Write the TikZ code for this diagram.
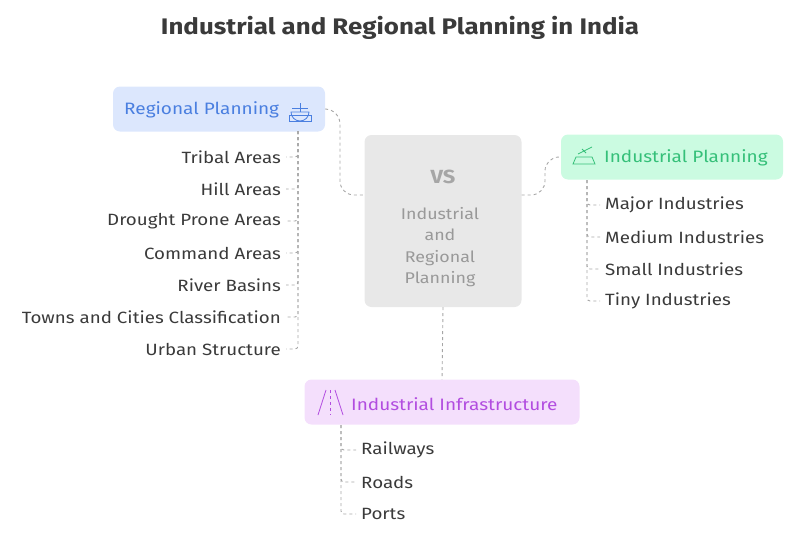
\documentclass[tikz,border=0pt]{standalone}
\usepackage{fontspec}
\setmainfont{Fira Sans}[FakeStretch=1.15]
\usetikzlibrary{positioning, arrows.meta}
\definecolor{regfill}{HTML}{DCE7FD}
\definecolor{regtext}{HTML}{4A7FE0}
\definecolor{indfill}{HTML}{CBFBE1}
\definecolor{indtext}{HTML}{35C079}
\definecolor{inffill}{HTML}{F4DFFC}
\definecolor{inftext}{HTML}{B24DE0}
\definecolor{midfill}{HTML}{E8E8E8}
\definecolor{leaftext}{HTML}{3A3A3A}
\tikzset{
    topic/.style={rounded corners=7pt, minimum height=45pt},
    label/.style={font=\fontsize{16.5}{19}\selectfont, inner sep=0pt, anchor=west},
    leaf/.style={font=\fontsize{16.3}{18}\selectfont, text=leaftext, inner sep=1pt},
    link/.style={draw=gray!70, dashed, line width=0.9pt, rounded corners=8pt}
}
\begin{document}
\begin{tikzpicture}[x=1pt, y=-1pt]
        \useasboundingbox (0,0) rectangle (800,533);

        %% TITLE
        \node[font=\bfseries\fontsize{22.5}{24}\selectfont, text=leaftext] (title) at (400,28) {Industrial and Regional Planning in India};

        %% MAIN BOXES
        \node[topic, fill=midfill, minimum width=157pt, minimum height=172pt] (mid) at (443,221) {};
        \node[font=\bfseries\fontsize{19}{21}\selectfont, text=gray!70] (vs) at (443,177) {VS};
        \node[font=\fontsize{15.5}{21.5}\selectfont, text=gray!80, align=center] (midtext) at (440,247) {Industrial\\and\\Regional\\Planning};

        \node[topic, fill=regfill, minimum width=212pt] (reg) at (219,109) {};
        \node[topic, fill=indfill, minimum width=222pt] (ind) at (672,157) {};
        \node[topic, fill=inffill, minimum width=275pt] (inf) at (442,402) {};
        \node[label, text=regtext] (regtext) at (124,110) {Regional Planning};
        \node[label, text=indtext] (indtext) at (604,158) {Industrial Planning};
        \node[label, text=inftext] (inftext) at (351,404) {Industrial Infrastructure};

        % icons
        \begin{scope}[draw=regtext, line width=0.8pt]
            \draw (291,112) arc (180:0:9) -- cycle;
            \draw (300,103) -- (300,112) (292,108) -- (308,108);
            \draw (289,115) rectangle (311,121);
        \end{scope}
        \begin{scope}[draw=indtext, line width=0.8pt]
            \draw (573,164) -- (576,157) -- (592,157) -- (595,164) -- cycle;
            \draw (578,154) -- (592,147) (582,149) -- (586,153);
        \end{scope}
        \begin{scope}[draw=inftext, line width=0.8pt]
            \draw (318,415) -- (326,390) (343,415) -- (335,390);
            \draw[dashed] (330.5,390) -- (330.5,415);
        \end{scope}

        %% LEAVES
        \foreach \name/\txt [count=\i] in {tribal/Tribal Areas, hill/Hill Areas, drought/Drought Prone Areas,
            command/Command Areas, river/River Basins, towns/Towns and Cities Classification, urban/Urban Structure}
            \node[leaf, anchor=east] (\name) at (282,157+32*\i-32) {\txt};
        \foreach \name/\txt [count=\i] in {major/Major Industries, medium/Medium Industries,
            small/Small Industries, tiny/Tiny Industries}
            \node[leaf, anchor=west] (\name) at (604,205+32*\i-32) {\txt};
        \foreach \name/\txt [count=\i] in {rail/Railways, road/Roads, port/Ports}
            \node[leaf, anchor=west] (\name) at (360,450+32*\i-32) {\txt};

        %% CONNECTORS
        \draw[link, rounded corners=14pt] (reg.east) -- (340,110) |- (mid.west |- 0,195);
        \draw[link, rounded corners=14pt] (mid.east |- 0,195) -| (545,157) -- (ind.west);
        \draw[link] (mid.south) -- (inf.north);
        \foreach \n in {tribal, hill, drought, command, river, towns, urban}
            \draw[link, rounded corners=3pt] (298,131) |- ([xshift=4pt]\n.east);
        \foreach \n in {major, medium, small, tiny}
            \draw[link, rounded corners=3pt] (587,180) |- ([xshift=-4pt]\n.west);
        \foreach \n in {rail, road, port}
            \draw[link, rounded corners=3pt] (341,425) |- ([xshift=-4pt]\n.west);
\end{tikzpicture}
\end{document}
